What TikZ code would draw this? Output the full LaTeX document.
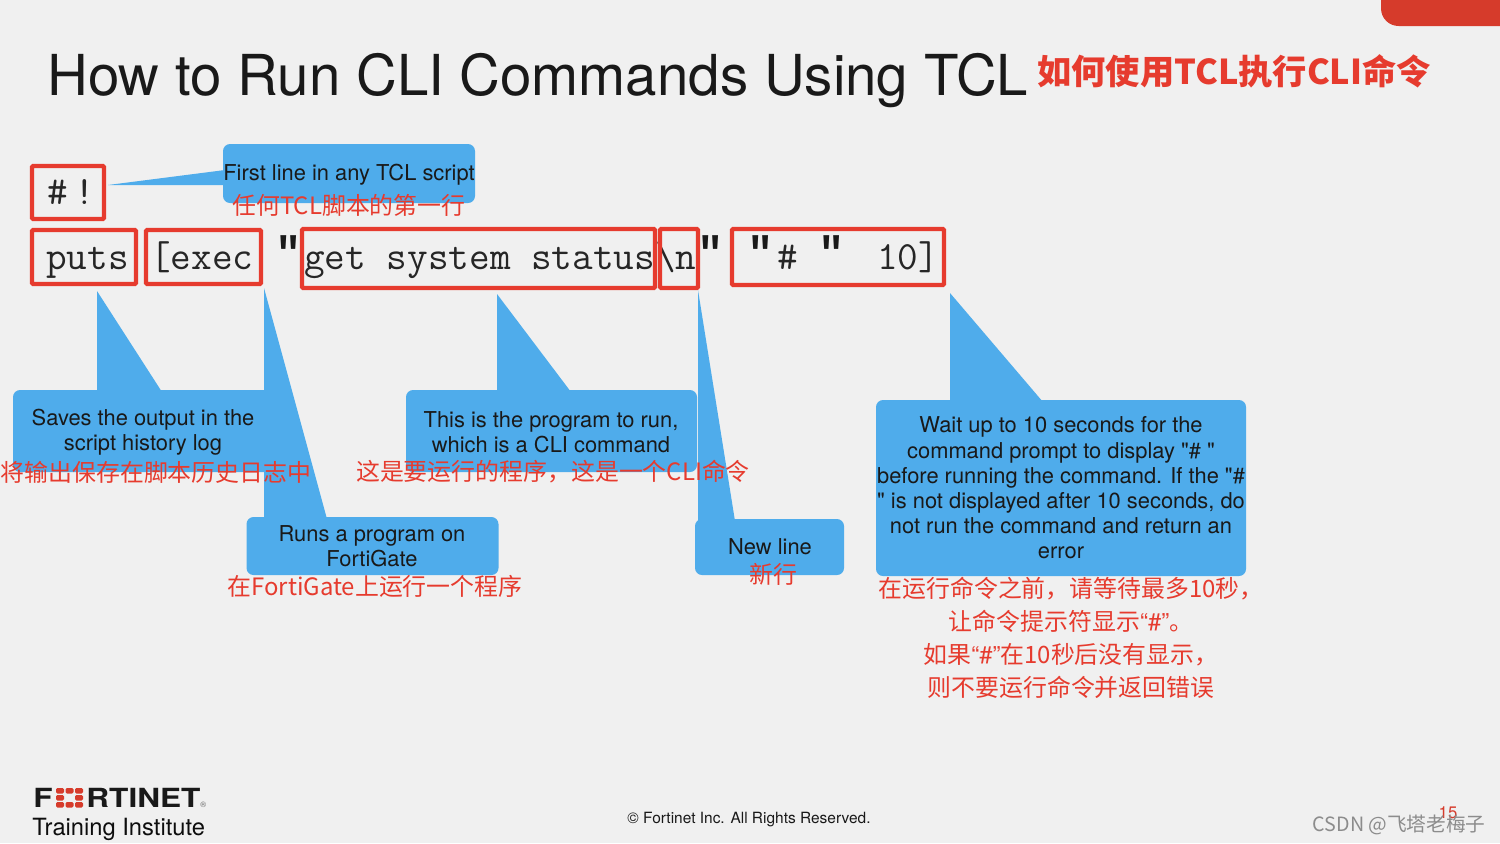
\documentclass[tikz,border=0pt]{standalone}
\usepackage{fontspec}
\usepackage{xcolor}
\setmainfont{TeX Gyre Heros}
\newfontfamily\cjk{Noto Sans CJK SC}
\newfontfamily\quotefont{Liberation Mono}
\usepackage{tikz}
\usetikzlibrary{positioning}
\definecolor{pagegray}{HTML}{F0F0F0}
\definecolor{tipblue}{HTML}{4FACEB}
\definecolor{markred}{HTML}{E63B2E}
\definecolor{cornerred}{HTML}{D63B2B}
\newcommand{\fs}[2]{\fontsize{#1}{#2}\selectfont}
\newcommand{\dq}{\textquotedbl}
\tikzset{
  tipbox/.style={fill=tipblue, rounded corners=4pt, inner sep=0pt, align=center},
  tiptail/.style={fill=tipblue},
  markbox/.style={draw=markred, line width=2.4pt, rounded corners=0.6pt, inner sep=0pt},
  codetext/.style={font=\ttfamily\fs{22.8}{24}, text=black!85, inner sep=0pt, anchor=base west},
  quotetext/.style={font=\quotefont\bfseries\fs{25}{25}, inner sep=0pt, text=black!90},
  tiptext/.style={font=\fs{12.45}{14.35}, text=black!90, align=center, inner sep=0pt},
  zhtext/.style={font=\cjk\fs{13.6}{18.8}, text=markred, align=center, inner sep=0pt}
}
\begin{document}
\begin{tikzpicture}[x=0.02cm,y=-0.02cm]

  \fill[pagegray] (0,0) rectangle (1500,843);
  \useasboundingbox (0,0) rectangle (1500,843);
  \begin{scope}
    \clip (0,0) rectangle (1500,843);
    \fill[cornerred, rounded corners=10pt] (1381,-40) -- (1381,26) -- (1540,26) -- (1540,-40) -- cycle;
  \end{scope}

  % ----- titulo -----
  \node[anchor=base west, inner sep=0pt, font=\fs{32.13}{36}, text=black!90] (title) at (47,95) {How to Run CLI Commands Using TCL};
  \node[anchor=base west, inner sep=0pt, font=\cjk\bfseries\fs{19.5}{24}, text=markred] (titlezh) at (1037,84) {如何使用TCL执行CLI命令};

  % ----- caudas -----
  \fill[tiptail] (108,185) -- (225,170) -- (225,185) -- cycle;
  \fill[tiptail] (97,291) -- (97,392) -- (162,392) -- cycle;
  \fill[tiptail] (264,288) -- (264,519) -- (327,519) -- cycle;
  \fill[tiptail] (497,294) -- (497,392) -- (571,392) -- cycle;
  \fill[tiptail] (698,290) -- (698,521) -- (735,521) -- cycle;
  \fill[tiptail] (950,293) -- (950,402) -- (1043,402) -- cycle;

  % ----- caixas azuis -----
  \node[tipbox, minimum width=252*0.02cm, minimum height=59*0.02cm] (firstbox) at (349,173.5) {};
  \node[tipbox, minimum width=272*0.02cm, minimum height=82*0.02cm] (savesbox) at (149,431) {};
  \node[tipbox, minimum width=291*0.02cm, minimum height=82*0.02cm] (programbox) at (551.5,431) {};
  \node[tipbox, minimum width=252*0.02cm, minimum height=58*0.02cm] (runsbox) at (372.5,546) {};
  \node[tipbox, minimum width=149*0.02cm, minimum height=56*0.02cm] (newlinebox) at (769.5,547) {};
  \node[tipbox, minimum width=370*0.02cm, minimum height=176*0.02cm] (waitbox) at (1061,488) {};

  % ----- textos das caixas -----
  \node[tiptext] (firsttext) at (349,175) {First line in any TCL script};
  \node[tiptext] (savestext) at (143,432) {Saves the output in the\\script history log};
  \node[tiptext] (programtext) at (551,432) {This is the program to run,\\which is a CLI command};
  \node[tiptext] (runstext) at (372,546) {Runs a program on\\FortiGate};
  \node[tiptext] (newlinetext) at (770,547) {New line};
  \node[tiptext] (waittext) at (1061,488) {Wait up to 10 seconds for the\\command prompt to display \dq\# \dq\\before running the command. If the \dq\#\\\dq{} is not displayed after 10 seconds, do\\not run the command and return an\\error};

  % ----- traducoes -----
  \node[zhtext] (firstzh) at (349,205) {任何TCL脚本的第一行};
  \node[zhtext] (saveszh) at (156,472) {将输出保存在脚本历史日志中};
  \node[zhtext] (programzh) at (553,472) {这是要运行的程序，这是一个CLI命令};
  \node[zhtext] (runszh) at (375,586) {在FortiGate上运行一个程序};
  \node[zhtext] (newlinezh) at (773,574) {新行};
  \node[zhtext] (waitzh) at (1071,638) {在运行命令之前，请等待最多10秒，\\让命令提示符显示{\rmfamily “\#”}。\\如果{\rmfamily “\#”}在10秒后没有显示，\\则不要运行命令并返回错误};

  % ----- codigo -----
  \node[codetext] (shebang) at (47,204) {\#\,!};
  \node[codetext] (putscode) at (46,269) {puts};
  \node[codetext] (execcode) at (150,269) {[exec};
  \node[codetext] (getcode) at (304,269) {get system status};
  \node[codetext] (nlcode) at (655,269) {\textbackslash n};
  \node[codetext] (hashcode) at (777,269) {\#};
  \node[codetext] (tencode) at (877,269) {10]};
  \foreach \xq/\nm in {289/qa,711/qb,761/qc,832/qd}
    \node[quotetext] (\nm) at (\xq,252) {\dq};

  % ----- marcas vermelhas -----
  \draw[markbox] (32,166) rectangle (104,219);
  \draw[markbox] (32,230) rectangle (136,284);
  \draw[markbox] (146,230) rectangle (261,284);
  \draw[markbox] (302,229) rectangle (655,288);
  \draw[markbox] (660,229) rectangle (698,288);
  \draw[markbox] (732,229) rectangle (944,285);

  % ----- rodape -----
  \node[anchor=base west, inner sep=0pt, font=\bfseries\fs{15}{18}, text=black!90] (brandf) at (33,807) {\scalebox{1.2}[1]{F}};
  \foreach \cx/\cy in {56/788,65.5/788,75/788,56/795,75/795,56/802,65.5/802,75/802}
    \fill[cornerred, rounded corners=0.8pt] (\cx,\cy) rectangle ++(8,5.5);
  \node[anchor=base west, inner sep=0pt, font=\bfseries\fs{15}{18}, text=black!90] (brand) at (86,807) {\scalebox{1.2}[1]{RTINET}};
  \node[anchor=base west, inner sep=0pt, font=\fs{4.5}{5}, text=black!60] (brandreg) at (200,807) {®};
  \node[anchor=base west, inner sep=0pt, font=\fs{13.5}{14}, text=black!95] (institute) at (32,835) {Training Institute};
  \node[anchor=base, inner sep=0pt, font=\fs{8.8}{10}, text=black!90] (rights) at (749,823) {© Fortinet Inc. All Rights Reserved.};
  \node[anchor=base, inner sep=0pt, font=\fs{9.5}{10}, text=cornerred] (pagenum) at (1448,818) {15};
  \node[anchor=base east, inner sep=0pt, font=\cjk\fs{11.2}{14}, text=black!45] (mark) at (1486,831) {CSDN @飞塔老梅子};

\end{tikzpicture}
\end{document}
